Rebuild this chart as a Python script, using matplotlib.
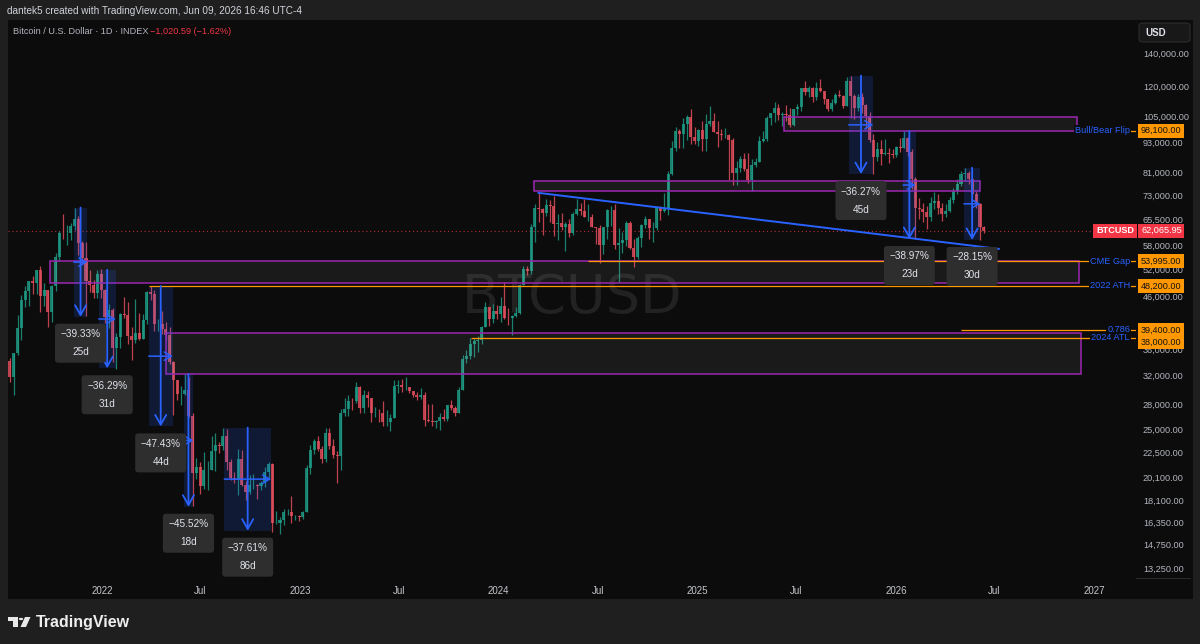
import numpy as np
import pandas as pd
import matplotlib
matplotlib.use("Agg")
import matplotlib.pyplot as plt
import matplotlib.dates as mdates
from matplotlib.patches import Rectangle, Polygon, Circle, FancyBboxPatch
from matplotlib.ticker import FixedLocator, FuncFormatter, NullLocator

plt.rcParams['font.family'] = ['Liberation Sans', 'DejaVu Sans']

# weekly candles: (high, low, close) in thousand USD
open_first = 34.2
wk_2021 = [(34.6, 31.1, 31.8), (35.4, 29.3, 35.4), (42.2, 35.2, 39.8), (46.2, 37.6, 45.1),
           (48.1, 43.8, 47.0), (49.4, 43.9, 49.3), (50.5, 46.4, 48.9), (51.9, 46.5, 51.8),
           (52.9, 42.8, 46.0), (48.8, 44.0, 47.3), (47.3, 40.0, 42.8), (48.5, 40.8, 48.2),
           (56.1, 47.1, 54.9), (62.0, 53.9, 61.5), (67.0, 59.8, 61.3), (63.7, 58.0, 61.3),
           (64.3, 59.4, 63.3), (69.0, 62.3, 65.5), (66.3, 55.6, 58.6), (59.3, 53.3, 54.8),
           (59.0, 42.0, 49.4), (51.9, 46.8, 48.4), (49.5, 45.6, 46.7), (51.9, 45.6, 50.8),
           (52.0, 45.7, 47.3)]
wk_2022 = [(47.5, 40.6, 41.8), (44.4, 39.7, 43.1), (43.5, 34.0, 36.3), (38.9, 33.0, 38.2),
           (42.6, 36.3, 42.4), (45.8, 41.7, 42.2), (44.7, 37.0, 38.4), (40.0, 34.3, 37.7),
           (45.4, 37.2, 38.8), (42.6, 37.6, 37.8), (42.3, 38.2, 41.3), (47.0, 40.5, 46.8),
           (48.2, 45.2, 46.4), (47.4, 39.3, 40.4), (41.5, 39.2, 40.4), (42.9, 38.6, 39.5),
           (40.8, 37.6, 38.5), (39.9, 33.7, 34.1), (34.2, 26.7, 31.3), (31.0, 28.6, 29.4),
           (30.5, 28.0, 29.4), (32.2, 29.3, 29.9), (31.7, 26.5, 26.6), (26.9, 17.6, 20.5),
           (21.9, 19.9, 21.0), (21.5, 18.6, 19.3), (22.5, 19.0, 20.8), (21.6, 18.9, 20.8),
           (24.3, 20.8, 22.6), (24.6, 20.7, 23.3), (23.6, 22.4, 23.2), (25.2, 22.7, 24.3),
           (25.0, 20.8, 21.5), (21.8, 19.8, 20.0), (20.6, 19.6, 19.8), (22.8, 18.5, 21.8),
           (22.7, 19.3, 19.4), (19.7, 18.1, 18.8), (20.3, 18.6, 19.4), (20.4, 19.0, 19.4),
           (19.5, 18.2, 19.3), (19.7, 18.9, 19.6), (21.0, 19.2, 20.6), (21.5, 20.0, 21.3),
           (21.4, 15.6, 16.3), (17.2, 16.2, 16.3), (16.7, 15.5, 16.5), (17.4, 16.1, 17.1),
           (17.4, 16.9, 17.1), (18.4, 16.3, 16.8), (16.9, 16.5, 16.8), (16.9, 16.4, 16.7)]
wk_2023 = [(17.2, 16.6, 17.1), (21.2, 17.1, 20.9), (23.3, 20.4, 22.7), (23.9, 22.3, 23.7),
           (24.3, 22.6, 22.9), (23.2, 21.4, 21.8), (25.2, 21.5, 24.6), (25.1, 22.8, 23.2),
           (23.9, 21.9, 22.2), (22.6, 19.6, 22.1), (27.4, 20.8, 26.9), (28.8, 26.6, 27.5),
           (29.2, 26.6, 28.5), (28.8, 27.3, 28.4), (31.0, 28.2, 30.3), (30.5, 27.0, 27.6),
           (30.0, 26.9, 29.3), (29.8, 27.7, 28.9), (28.7, 25.8, 26.9), (27.7, 26.5, 27.0),
           (27.5, 25.9, 26.9), (28.4, 25.4, 25.9), (27.3, 25.4, 25.9), (26.8, 24.8, 26.3),
           (31.4, 26.3, 30.5), (31.3, 29.5, 30.6), (31.5, 29.7, 30.3), (31.8, 30.0, 30.3),
           (30.4, 29.5, 29.8), (29.6, 29.0, 29.3), (29.7, 28.6, 29.0), (30.2, 28.7, 29.3),
           (29.6, 25.4, 26.1), (28.1, 25.8, 26.0), (28.1, 25.4, 25.8), (26.1, 25.2, 26.0),
           (26.9, 24.9, 26.5), (27.4, 26.0, 26.2), (28.0, 26.0, 27.9), (28.6, 27.3, 27.6),
           (27.8, 26.6, 26.9), (30.3, 26.9, 30.0), (35.2, 30.0, 34.5), (35.9, 33.9, 35.0),
           (37.9, 34.5, 37.0), (37.9, 34.8, 37.4), (38.4, 35.6, 37.7), (40.2, 37.0, 39.9),
           (44.7, 39.9, 43.8), (43.4, 40.2, 41.4), (44.3, 40.6, 43.0), (44.2, 41.5, 42.3)]
wk_2024 = [(45.9, 40.8, 43.9), (49.0, 41.5, 41.7), (43.6, 40.3, 41.6), (42.2, 38.5, 42.0),
           (43.8, 41.9, 42.6), (48.6, 42.3, 48.3), (52.9, 48.3, 52.1), (52.9, 50.6, 51.7),
           (64.0, 50.9, 63.1), (70.0, 59.0, 68.9), (73.8, 64.6, 68.4), (68.9, 60.8, 67.2),
           (71.7, 66.4, 69.7), (71.3, 64.5, 69.4), (72.8, 60.7, 63.9), (66.9, 59.6, 64.3),
           (67.2, 62.4, 63.1), (64.7, 56.6, 64.0), (65.5, 60.2, 61.5), (67.7, 60.8, 66.9),
           (71.9, 66.7, 68.5), (70.6, 66.6, 67.8), (71.9, 66.0, 66.2), (70.0, 65.0, 66.2),
           (66.9, 63.0, 63.2), (63.0, 58.4, 62.7), (63.8, 53.5, 58.0), (63.2, 55.7, 63.0),
           (68.4, 59.8, 68.2), (69.4, 63.4, 68.3), (70.0, 57.2, 58.2), (62.7, 49.0, 58.7),
           (61.8, 56.1, 59.4), (64.9, 57.8, 64.2), (64.9, 57.2, 57.3), (59.8, 52.5, 54.9),
           (60.6, 54.6, 60.0), (64.1, 57.5, 63.6), (66.5, 62.7, 65.6), (65.5, 59.8, 62.8),
           (64.5, 58.9, 62.9), (69.4, 62.4, 69.0), (69.5, 65.1, 67.9), (73.6, 67.5, 68.7),
           (81.5, 66.8, 80.4), (93.4, 80.2, 90.6), (99.6, 89.4, 97.9), (98.7, 90.8, 96.4),
           (104.0, 90.5, 101.2), (105.3, 94.2, 104.5), (108.3, 92.2, 95.2), (99.9, 92.5, 93.7),
           (99.0, 91.4, 98.3)]
wk_2025 = [(102.7, 89.2, 94.5), (105.9, 89.3, 101.1), (109.6, 100.1, 102.6), (106.5, 97.7, 97.7),
           (102.5, 91.2, 96.5), (98.9, 94.1, 96.1), (99.5, 94.9, 96.3), (96.5, 78.2, 94.2),
           (95.0, 76.6, 80.7), (85.3, 76.6, 82.6), (87.4, 81.1, 86.1), (88.7, 81.6, 82.3),
           (88.5, 77.1, 78.4), (86.1, 74.5, 83.8), (86.5, 83.1, 85.1), (95.8, 85.1, 93.7),
           (97.9, 93.0, 94.3), (104.9, 93.4, 104.0), (106.6, 100.7, 106.5), (111.9, 102.1, 109.0),
           (110.7, 103.0, 105.6), (106.8, 100.4, 105.7), (110.5, 102.6, 105.6), (108.9, 99.6, 100.9),
           (108.5, 100.0, 108.4), (110.6, 105.3, 109.2), (119.5, 107.4, 119.1), (123.2, 115.7, 117.3),
           (120.2, 114.7, 119.4), (119.8, 112.0, 114.2), (122.3, 112.7, 119.3), (124.5, 117.2, 117.4),
           (117.6, 110.7, 113.5), (113.5, 107.3, 108.2), (113.4, 107.3, 111.1), (116.7, 110.6, 115.3),
           (117.9, 114.4, 115.2), (115.3, 108.7, 109.6), (125.7, 109.9, 123.4), (126.2, 104.0, 115.0),
           (115.9, 103.5, 108.6), (116.0, 107.5, 114.5), (116.4, 106.3, 110.5), (110.6, 98.9, 104.7),
           (107.0, 93.0, 94.2), (96.6, 80.6, 86.8), (93.1, 85.3, 90.4), (94.1, 83.8, 88.2),
           (94.6, 87.6, 88.5), (90.5, 84.5, 88.0), (90.0, 86.5, 87.8), (91.5, 86.8, 91.0)]
wk_2026 = [(94.8, 89.0, 90.5), (97.9, 90.5, 95.0), (95.5, 87.5, 89.0), (90.0, 75.0, 78.5),
           (79.5, 59.8, 69.0), (72.0, 65.5, 68.5), (70.5, 64.5, 67.5), (69.5, 62.5, 66.0),
           (72.5, 65.0, 70.5), (74.0, 68.5, 71.0), (73.5, 67.0, 69.0), (70.5, 64.8, 67.0),
           (70.0, 66.0, 68.0), (72.5, 67.5, 71.5), (75.5, 70.5, 74.5), (78.5, 73.5, 77.0),
           (81.5, 76.0, 80.5), (82.8, 78.0, 81.0), (81.5, 77.0, 78.5), (78.5, 72.5, 73.5),
           (74.5, 69.0, 70.0), (70.5, 59.5, 63.1), (63.5, 61.5, 62.066)]
week_starts = ["2021-07-12", "2022-01-03", "2023-01-02", "2024-01-01", "2025-01-06", "2026-01-05"]

last_price = 62065.95

# purple zones: start, end, top, bottom
zone_start = ["2025-06-09", "2024-03-05", "2021-09-27", "2022-04-28"]
zone_end = ["2026-11-30", "2026-06-04", "2026-12-03", "2026-12-07"]
zone_top = [104300, 77900, 53995, 38900]
zone_bottom = [98100, 74400, 48800, 32200]

# horizontal levels
level_names = ["Bull/Bear Flip", "CME Gap", "2022 ATH", "0.786", "2024 ATL"]
level_prices = [98100, 53995, 48200, 39400, 38000]
level_start = ["2026-11-30", "2024-06-13", "2022-03-28", "2026-05-01", "2023-11-10"]

# date & price range measurements
drop_start = ["2021-11-10", "2021-12-26", "2022-03-28", "2022-05-31", "2022-08-14",
              "2025-10-06", "2026-01-14", "2026-05-06"]
drop_end = ["2021-12-05", "2022-01-26", "2022-05-11", "2022-06-18", "2022-11-08",
            "2025-11-20", "2026-02-06", "2026-06-05"]
drop_top = [69000, 51900, 48200, 32200, 25200, 126200, 97900, 82800]
drop_pct = [-39.33, -36.29, -47.43, -45.52, -37.61, -36.27, -38.97, -28.15]
drop_days = [25, 31, 44, 18, 86, 45, 23, 30]

# trendline
trend_dates = ["2024-03-14", "2026-07-09"]
trend_prices = [73800, 57100]

price_ticks = [13250, 14750, 16350, 18100, 20100, 22500, 25000, 28000, 32000, 36000,
               46000, 52000, 58000, 65500, 73000, 81000, 93000, 105000, 120000, 140000]
time_ticks = ["2022-01-01", "2022-07-01", "2023-01-01", "2023-07-01", "2024-01-01", "2024-07-01",
              "2025-01-01", "2025-07-01", "2026-01-01", "2026-07-01", "2027-01-01"]
time_labels = ["2022", "Jul", "2023", "Jul", "2024", "Jul", "2025", "Jul", "2026", "Jul", "2027"]

W, H = 1200, 644
OUTER = '#1f1f1f'
PANE = '#0c0c0c'
BLUE = '#2962ff'
ORANGE = '#ff9800'
RED = '#f23645'
PURPLE = '#9c27b0'


def d2n(s):
    return mdates.date2num(pd.Timestamp(s))


def fig_xy(px, py):
    return px / W, 1 - py / H


def ax_x(px):
    return (px - 8) / 1128


fig = plt.figure(figsize=(W / 100, H / 100), dpi=100)
fig.patch.set_facecolor(OUTER)
fig.add_artist(Rectangle(fig_xy(8, 599), 1185 / W, 579 / H, transform=fig.transFigure,
                         facecolor=PANE, edgecolor='none', zorder=0))

ax = fig.add_axes([8 / W, 1 - 578 / H, 1128 / W, 558 / H])
ax.set_facecolor(PANE)
ax.set_yscale('log')
ax.set_ylim(12660, 162800)
ax.set_xlim(d2n("2021-07-12"), d2n("2021-07-12") + 2075.5)
for s in ax.spines.values():
    s.set_visible(False)

# candles
dates, hi, lo, cl = [], [], [], []
for start, rows in zip(week_starts, [wk_2021, wk_2022, wk_2023, wk_2024, wk_2025, wk_2026]):
    dates.extend(mdates.date2num(pd.date_range(start, periods=len(rows), freq="7D")))
    hi.extend(r[0] for r in rows)
    lo.extend(r[1] for r in rows)
    cl.extend(r[2] for r in rows)
x = np.array(dates) + 3.5
cl = np.array(cl) * 1000
op = np.concatenate([[open_first * 1000], cl[:-1]])
hi = np.maximum(np.array(hi) * 1000, np.maximum(op, cl))
lo = np.minimum(np.array(lo) * 1000, np.minimum(op, cl))
colors = np.where(cl >= op, '#1f9e88', '#e8505f')
ax.vlines(x, lo, hi, colors=colors, lw=0.9, alpha=0.8, zorder=2)
body_lo = np.minimum(op, cl)
body_hi = np.maximum(op, cl)
ax.bar(x, body_hi - body_lo, bottom=body_lo, width=5.6, color=colors, alpha=0.8,
       linewidth=0, zorder=2)

# watermark
ax.text(0.5, 0.502, "BTCUSD", transform=ax.transAxes, ha='center', va='center',
        fontsize=39, color='#222222', family='DejaVu Sans', zorder=0.5)

# last price line
ax.axhline(last_price, color=RED, lw=0.8, ls=(0, (1, 2.5)), alpha=0.75, zorder=1.5)

# zones
for s, e, t, b in zip(zone_start, zone_end, zone_top, zone_bottom):
    ax.add_patch(Rectangle((d2n(s), b), d2n(e) - d2n(s), t - b, facecolor=(1, 1, 1, 0.06),
                           edgecolor=PURPLE, lw=1.1, zorder=3))

# levels
xmax = ax.get_xlim()[1]
ytr = ax.get_yaxis_transform()
for name, p, s in zip(level_names, level_prices, level_start):
    ax.hlines(p, d2n(s), xmax, color=ORANGE, lw=0.9, zorder=3.5)
    ax.text(ax_x(1130), p, name, transform=ytr, ha='right', va='center', fontsize=6.6,
            color=BLUE, zorder=8, clip_on=False,
            bbox=dict(boxstyle='square,pad=0.1', fc=PANE, ec='none'))

# trendline
ax.plot([d2n(d) for d in trend_dates], trend_prices, color=BLUE, lw=1.4, zorder=4)

# drop measurements
for s, e, top, pct, days in zip(drop_start, drop_end, drop_top, drop_pct, drop_days):
    x0, x1 = d2n(s), d2n(e)
    bottom = top * (1 + pct / 100)
    mid = (x0 + x1) / 2
    ax.add_patch(Rectangle((x0, bottom), x1 - x0, top - bottom, facecolor=BLUE, alpha=0.17,
                           edgecolor='none', zorder=3))
    ax.annotate('', xy=(mid, bottom), xytext=(mid, top),
                arrowprops=dict(arrowstyle='->,head_length=0.7,head_width=0.4', color=BLUE,
                                lw=1.3, shrinkA=0, shrinkB=0), zorder=5)
    pmid = np.sqrt(top * bottom)
    ax.annotate('', xy=(x1, pmid), xytext=(x0, pmid),
                arrowprops=dict(arrowstyle='->,head_length=0.5,head_width=0.3', color=BLUE,
                                lw=1.1, shrinkA=0, shrinkB=0), zorder=5)
    label = f"{pct:.2f}%".replace('-', '\u2212') + f"\n{days}d"
    ax.annotate(label, xy=(mid, bottom), xytext=(0, -9), textcoords='offset points',
                ha='center', va='top', fontsize=7.2, color='#e0e3eb', linespacing=2.0,
                bbox=dict(boxstyle='round,pad=0.55,rounding_size=0.3', fc='#2e2e2e', ec='none'),
                zorder=9, annotation_clip=False)

# axes ticks
ax.yaxis.tick_right()
ax.yaxis.set_major_locator(FixedLocator(price_ticks))
ax.yaxis.set_minor_locator(NullLocator())
ax.yaxis.set_major_formatter(FuncFormatter(lambda v, p: f"{v:,.2f}"))
ax.tick_params(axis='y', length=0, pad=5, labelsize=6.6, labelcolor='#b2b5be')
ax.set_xticks([d2n(t) for t in time_ticks])
ax.set_xticklabels(time_labels)
ax.tick_params(axis='x', length=0, pad=6, labelsize=7, labelcolor='#c4c6cc')

# price badges
badge_offsets = [0, 0, 0, 0, -3]
for p, dy in zip(level_prices, badge_offsets):
    ax.annotate(f"{p:,.2f}", xy=(ax_x(1141), p), xycoords=ytr, xytext=(0, dy),
                textcoords='offset points', ha='left', va='center', fontsize=6.6, color='#131313',
                bbox=dict(boxstyle='square,pad=0.28', fc=ORANGE, ec='none'),
                zorder=10, annotation_clip=False)
ax.annotate(f"{last_price:,.2f}", xy=(ax_x(1141), last_price), xycoords=ytr,
            ha='left', va='center', fontsize=6.6, color='white',
            bbox=dict(boxstyle='square,pad=0.28', fc=RED, ec='none'), zorder=10,
            annotation_clip=False)
ax.annotate("BTCUSD", xy=(ax_x(1134), last_price), xycoords=ytr,
            ha='right', va='center', fontsize=6.6, color='white', fontweight='bold',
            bbox=dict(boxstyle='square,pad=0.28', fc=RED, ec='none'), zorder=10,
            annotation_clip=False)

# USD box
fig.add_artist(FancyBboxPatch(fig_xy(1139, 42), 51 / W, 19 / H, transform=fig.transFigure,
                              boxstyle='round,pad=0,rounding_size=0.004', facecolor='#181818',
                              edgecolor='#2c2c2c', lw=0.8, zorder=5))
fig.text(*fig_xy(1145, 32.5), "USD", fontsize=7, color='#e0e3eb', va='center', ha='left',
         fontweight='bold', zorder=6)
fig.add_artist(plt.Line2D([1136 / W, 1190 / W], [1 - 578 / H] * 2, transform=fig.transFigure,
                          color='#2a2a2a', lw=0.8))

# header texts
fig.text(*fig_xy(7, 11), "dantek5 created with TradingView.com, Jun 09, 2026 16:46 UTC-4",
         fontsize=7.2, color='#d1d4dc', va='center', ha='left')
fig.text(*fig_xy(13, 31), "Bitcoin / U.S. Dollar \u00b7 1D \u00b7 INDEX", fontsize=6.6,
         color='#b2b5be', va='center', ha='left')
fig.text(*fig_xy(150, 31), "\u22121,020.59 (\u22121.62%)", fontsize=6.6, color=RED,
         va='center', ha='left')

# TradingView logo
logo_col = '#e8e8e8'
fig.add_artist(Polygon([fig_xy(8, 617), fig_xy(17.5, 617), fig_xy(17.5, 627), fig_xy(13, 627),
                        fig_xy(13, 621), fig_xy(8, 621)], closed=True, transform=fig.transFigure,
                       facecolor=logo_col, edgecolor='none'))
fig.add_artist(Circle(fig_xy(21, 619), 2.2 / W, transform=fig.transFigure,
                      facecolor=logo_col, edgecolor='none'))
fig.add_artist(Polygon([fig_xy(25, 617), fig_xy(30.5, 617), fig_xy(26, 627), fig_xy(20.5, 627)],
                       closed=True, transform=fig.transFigure, facecolor=logo_col, edgecolor='none'))
fig.text(*fig_xy(36, 622), "TradingView", fontsize=11.5, color='#eeeeee', va='center',
         ha='left', fontweight='bold')

fig.savefig("out.png", dpi=100, facecolor=fig.get_facecolor())
